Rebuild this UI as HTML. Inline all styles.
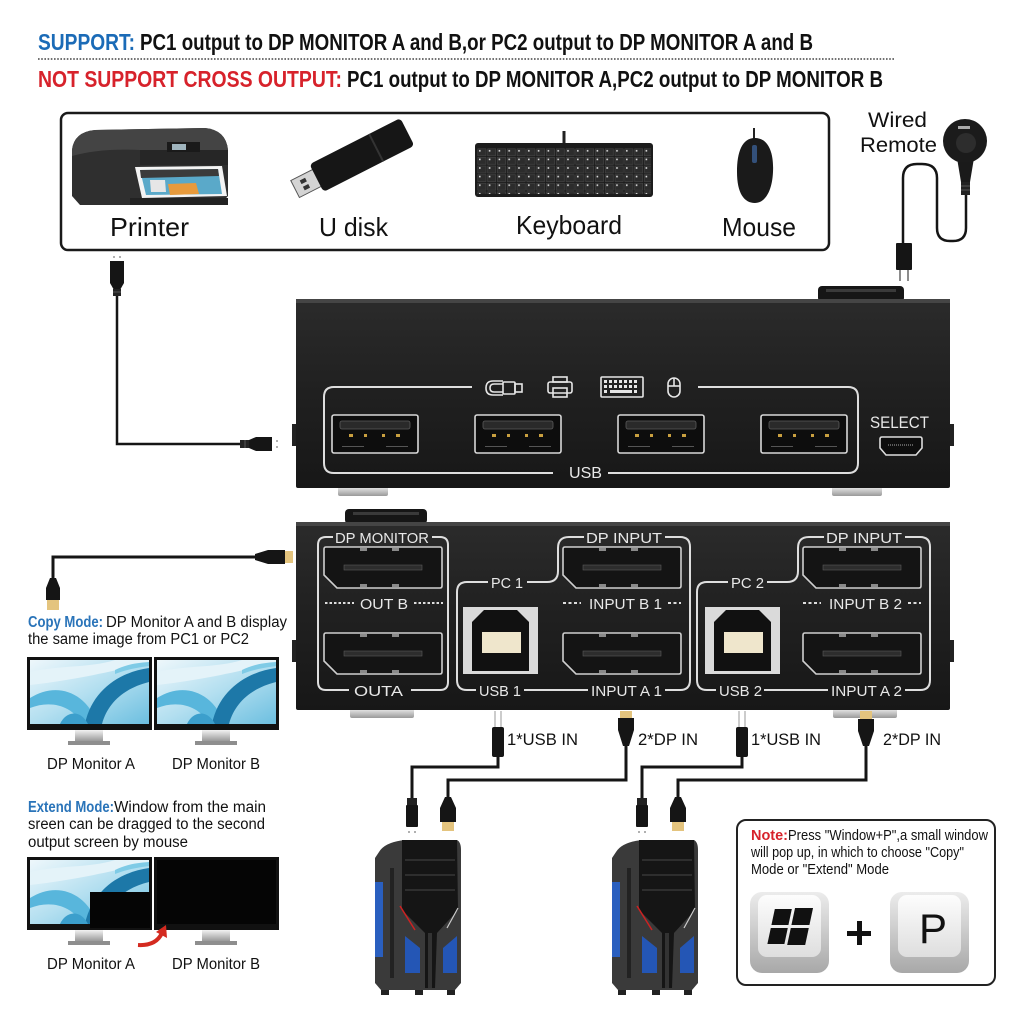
<!DOCTYPE html>
<html><head><meta charset="utf-8"><style>
html,body{margin:0;padding:0;background:#fff;}
svg{display:block;}
text{font-family:"Liberation Sans",Arial,sans-serif;}
</style></head><body>
<svg width="1024" height="1024" viewBox="0 0 1024 1024" xmlns="http://www.w3.org/2000/svg">
<defs>
 <linearGradient id="dev" x1="0" y1="0" x2="0" y2="1"><stop offset="0" stop-color="#2b2b2b"/><stop offset="0.5" stop-color="#202020"/><stop offset="1" stop-color="#171717"/></linearGradient>
 <linearGradient id="silver" x1="0" y1="0" x2="0" y2="1"><stop offset="0" stop-color="#f2f2f2"/><stop offset="1" stop-color="#9a9a9a"/></linearGradient>
 <linearGradient id="scr" x1="0" y1="0" x2="1" y2="1"><stop offset="0" stop-color="#eef7fb"/><stop offset="0.5" stop-color="#b3dff0"/><stop offset="1" stop-color="#6cbfe0"/></linearGradient>
 <linearGradient id="capo" x1="0" y1="0" x2="0" y2="1"><stop offset="0" stop-color="#ececec"/><stop offset="1" stop-color="#a8a8a8"/></linearGradient>
 <linearGradient id="capi" x1="0" y1="0" x2="0" y2="1"><stop offset="0" stop-color="#fdfdfd"/><stop offset="1" stop-color="#dedede"/></linearGradient>
 <pattern id="keys" x="477" y="148" width="9.8" height="8.6" patternUnits="userSpaceOnUse">
  <rect x="0.8" y="0.8" width="8.2" height="7" fill="#2c2c2c" stroke="#4d4d4d" stroke-width="0.5"/>
  <rect x="2" y="2" width="1.6" height="1.6" fill="#ddd"/>
 </pattern>
 <g id="screen">
  <rect width="119" height="64" fill="url(#scr)"/>
  <path d="M0,12 C30,5 60,8 85,0 L119,0 L119,4 C90,8 60,18 0,25Z" fill="#e4f3f9"/>
  <path d="M0,38 C25,22 55,30 68,64 L52,64 C42,45 20,40 0,48Z" fill="#58b6dc"/>
  <path d="M55,64 C62,30 90,12 119,8 L119,22 C95,28 78,42 72,64Z" fill="#1d78a8"/>
  <path d="M30,64 C35,52 50,48 58,64Z" fill="#3c9fcc"/>
  <path d="M85,10 C95,5 105,3 119,2 L119,6 C105,8 95,10 85,14Z" fill="#7fcbe6"/>
 </g>
 <g id="mon">
  <rect x="0" y="0" width="125" height="73" fill="#111"/>
  <rect x="48" y="73" width="28" height="11" fill="url(#silver)"/>
  <rect x="41" y="84" width="42" height="4" fill="#8e8e8e"/>
 </g>
 <g id="usbport">
  <rect x="0" y="0" width="86" height="38" rx="2" fill="#0d0d0d" stroke="#d8d8d8" stroke-width="1.6"/>
  <rect x="8" y="6" width="70" height="8" rx="2" fill="#2a2a2a" stroke="#5a5a5a" stroke-width="0.8"/>
  <rect x="17" y="19" width="4" height="3" fill="#c9a040"/>
  <rect x="32" y="19" width="3" height="3" fill="#c9a040"/>
  <rect x="50" y="19" width="3" height="3" fill="#c9a040"/>
  <rect x="64" y="19" width="4" height="3" fill="#c9a040"/>
  <rect x="10" y="31" width="22" height="1" fill="#555"/>
  <rect x="54" y="31" width="22" height="1" fill="#555"/>
 </g>
 <g id="dpport">
  <path d="M2,0 H116 Q118,0 118,2 V39 Q118,41 116,41 H13 L0,28 V2 Q0,0 2,0 Z" fill="#141414" stroke="#cfcfcf" stroke-width="1.6"/>
  <rect x="20" y="18" width="78" height="5" fill="#2d2d2d" stroke="#5a5a5a" stroke-width="0.6"/>
  <rect x="36" y="1" width="7" height="3" fill="#8a8a8a"/>
  <rect x="68" y="1" width="7" height="3" fill="#8a8a8a"/>
  <rect x="36" y="37" width="7" height="3" fill="#8a8a8a"/>
  <rect x="68" y="37" width="7" height="3" fill="#8a8a8a"/>
 </g>
 <g id="usbb">
  <rect x="0" y="0" width="75" height="67" fill="#dadada"/>
  <polygon points="9,15 21,3 54,3 66,15 66,64 9,64" fill="#111"/>
  <rect x="19" y="25" width="39" height="21" fill="#efe6cc"/>
 </g>
 <g id="pc">
  <path d="M4,14 Q10,4 30,2 L82,2 Q86,4 86,12 L86,145 L80,152 L6,152 L0,145 L0,20 Z" fill="#3a3a3a"/>
  <path d="M27,2 L82,2 L83,72 L62,95 L60,150 L50,150 L50,95 L27,72 Z" fill="#151515"/>
  <line x1="30" y1="22" x2="80" y2="22" stroke="#2e2e2e" stroke-width="2"/>
  <line x1="30" y1="37" x2="80" y2="37" stroke="#2e2e2e" stroke-width="2"/>
  <line x1="30" y1="52" x2="80" y2="52" stroke="#2e2e2e" stroke-width="2"/>
  <rect x="0" y="44" width="8" height="75" fill="#2a5fbf"/>
  <rect x="15" y="30" width="4" height="110" fill="#222"/>
  <polygon points="30,98 45,110 45,135 30,135" fill="#2456b5"/>
  <polygon points="68,110 82,98 82,135 68,135" fill="#2456b5"/>
  <line x1="25" y1="68" x2="40" y2="92" stroke="#c22" stroke-width="1.5"/>
  <line x1="83" y1="70" x2="72" y2="90" stroke="#ccc" stroke-width="1.2"/>
  <rect x="53" y="95" width="4" height="55" fill="#333"/>
  <rect x="6" y="152" width="8" height="5" fill="#222"/>
  <rect x="40" y="152" width="8" height="5" fill="#222"/>
  <rect x="72" y="152" width="8" height="5" fill="#222"/>
 </g>
 <g id="keycap">
  <rect x="0" y="0" width="79" height="81" rx="12" fill="url(#capo)"/>
  <rect x="8" y="3" width="63" height="62" rx="9" fill="url(#capi)"/>
 </g>
</defs>

<rect width="1024" height="1024" fill="#fff"/>

<!-- Header -->
<text x="38" y="50" font-size="23" font-weight="bold" fill="#1b6bb7" textLength="97" lengthAdjust="spacingAndGlyphs">SUPPORT:</text>
<text x="140" y="50" font-size="23" font-weight="bold" fill="#111" textLength="673" lengthAdjust="spacingAndGlyphs">PC1 output to DP MONITOR A and B,or PC2 output to DP MONITOR A and B</text>
<line x1="38" y1="59" x2="895" y2="59" stroke="#444" stroke-width="1.6" stroke-dasharray="1.6 1.6"/>
<text x="38" y="87" font-size="23" font-weight="bold" fill="#d7222b" textLength="304" lengthAdjust="spacingAndGlyphs">NOT SUPPORT CROSS OUTPUT:</text>
<text x="347" y="87" font-size="23" font-weight="bold" fill="#111" textLength="536" lengthAdjust="spacingAndGlyphs">PC1 output to DP MONITOR A,PC2 output to DP MONITOR B</text>

<!-- Peripherals box -->
<rect x="61" y="113" width="768" height="137" rx="7" fill="#fff" stroke="#1a1a1a" stroke-width="2.5"/>
<!-- printer -->
<path d="M72,150 Q74,132 95,130 L205,128 Q226,130 228,150 L228,196 L220,205 L80,205 L72,196 Z" fill="#2f2f2f"/>
<path d="M72,150 Q74,132 95,130 L205,128 Q226,130 228,150 L140,150 Q100,148 72,156 Z" fill="#444"/>
<path d="M140,150 L228,150 L228,165 L140,165 Z" fill="#262626"/>
<rect x="167" y="142" width="33" height="10" fill="#1a1a1a"/>
<rect x="172" y="144" width="14" height="6" fill="#9fb4bd"/>
<path d="M135,167 L222,166 L227,196 L142,198 Z" fill="#f4f4f4"/>
<path d="M140,170 L218,169 L222,194 L146,195 Z" fill="#5aa9c9"/>
<path d="M140,170 L218,169 L219,176 L141,178 Z" fill="#3b3b3b"/>
<path d="M168,184 L196,183 L199,194 L170,195 Z" fill="#e79a3c"/>
<path d="M150,180 L165,180 L166,192 L151,192 Z" fill="#e6e6e6"/>
<rect x="130" y="198" width="98" height="7" fill="#222"/>
<!-- U disk -->
<g transform="rotate(-27 351 160)">
 <rect x="288" y="151" width="26" height="19" fill="#d4d4d4" stroke="#555" stroke-width="1"/>
 <rect x="296" y="155" width="6" height="4" fill="#333"/>
 <rect x="296" y="162" width="6" height="4" fill="#333"/>
 <rect x="312" y="145" width="102" height="31" rx="4" fill="#161616"/>
 <rect x="378" y="145" width="2" height="31" fill="#333"/>
</g>
<!-- keyboard -->
<line x1="564" y1="131" x2="564" y2="144" stroke="#222" stroke-width="3"/>
<rect x="475" y="143" width="178" height="54" rx="3" fill="#1c1c1c"/>
<rect x="477" y="148" width="174" height="46" fill="url(#keys)"/>
<!-- mouse -->
<line x1="754" y1="128" x2="754" y2="142" stroke="#222" stroke-width="2"/>
<path d="M755,138 C768,138 774,152 773,172 C772,193 764,203 755,203 C744,203 737,193 737,172 C737,152 742,138 755,138 Z" fill="#1a1a1a"/>
<rect x="752" y="145" width="5" height="18" rx="2" fill="#33507a"/>
<text x="110" y="236" font-size="26" fill="#111" textLength="79" lengthAdjust="spacingAndGlyphs">Printer</text>
<text x="319" y="236" font-size="26" fill="#111" textLength="69" lengthAdjust="spacingAndGlyphs">U disk</text>
<text x="516" y="234" font-size="26" fill="#111" textLength="106" lengthAdjust="spacingAndGlyphs">Keyboard</text>
<text x="722" y="236" font-size="26" fill="#111" textLength="74" lengthAdjust="spacingAndGlyphs">Mouse</text>

<!-- Wired remote -->
<text x="868" y="127" font-size="21" fill="#111" textLength="59" lengthAdjust="spacingAndGlyphs">Wired</text>
<text x="860" y="152" font-size="21" fill="#111" textLength="77" lengthAdjust="spacingAndGlyphs">Remote</text>
<path d="M966,195 V228 Q966,241 953,241 H950 Q937,241 937,228 V178 Q937,164 922,164 H917 Q903,164 903,178 V245" fill="none" stroke="#151515" stroke-width="2.5"/>
<path d="M957,158 L974,158 L970,182 L961,182 Z" fill="#1a1a1a"/>
<rect x="961" y="182" width="9" height="13" fill="#222"/>
<line x1="961" y1="186" x2="970" y2="186" stroke="#555"/>
<line x1="961" y1="190" x2="970" y2="190" stroke="#555"/>
<circle cx="965" cy="141" r="22" fill="#1b1b1b"/>
<circle cx="966" cy="143" r="10" fill="#2d2d2d"/>
<rect x="958" y="126" width="12" height="3" fill="#aaa"/>
<rect x="896" y="243" width="16" height="27" rx="1" fill="#151515"/>
<line x1="900" y1="270" x2="900" y2="281" stroke="#666" stroke-width="1.5"/>
<line x1="908" y1="270" x2="908" y2="281" stroke="#666" stroke-width="1.5"/>

<!-- Printer cable left -->
<path d="M117,292 V444 H242" fill="none" stroke="#151515" stroke-width="2.5"/>
<circle cx="114" cy="257" r="0.9" fill="#777"/><circle cx="120" cy="257" r="0.9" fill="#777"/>
<path d="M110,261 H124 V283 L120,290 H114 L110,283 Z" fill="#151515"/>
<rect x="113" y="289" width="8" height="7" fill="#222"/>
<line x1="113" y1="292" x2="121" y2="292" stroke="#555"/>
<rect x="240" y="440" width="10" height="8" fill="#222"/>
<line x1="245" y1="440" x2="245" y2="448" stroke="#555"/>
<path d="M249,440 L256,437 H272 V451 H256 L249,448 Z" fill="#151515"/>
<circle cx="277" cy="441" r="0.9" fill="#777"/><circle cx="277" cy="447" r="0.9" fill="#777"/>

<!-- DP cable left -->
<path d="M257,557 H53 V580" fill="none" stroke="#151515" stroke-width="3"/>
<path d="M255,554 L268,550 H285 V564 H268 L255,560 Z" fill="#151515"/>
<rect x="285" y="551" width="8" height="12" fill="#e4c47e"/>
<path d="M50,578 H56 L60,588 V600 H46 V588 Z" fill="#151515"/>
<rect x="47" y="600" width="12" height="10" fill="#e4c47e"/>

<!-- TOP DEVICE -->
<rect x="818" y="286" width="86" height="16" rx="4" fill="#161616"/>
<rect x="826" y="289" width="70" height="3" fill="#3a3a3a"/>
<rect x="338" y="486" width="50" height="10" rx="2" fill="url(#silver)"/>
<rect x="832" y="486" width="50" height="10" rx="2" fill="url(#silver)"/>
<rect x="296" y="299" width="654" height="189" rx="2" fill="url(#dev)"/>
<rect x="296" y="299" width="654" height="4" fill="#454545"/>
<rect x="292" y="424" width="4" height="22" fill="#222"/>
<rect x="950" y="424" width="4" height="22" fill="#222"/>
<path d="M472,387 H334 Q324,387 324,397 V463 Q324,473 334,473 H553 M608,473 H848 Q858,473 858,463 V397 Q858,387 848,387 H698" fill="none" stroke="#dedede" stroke-width="2"/>
<use href="#usbport" x="332" y="415"/>
<use href="#usbport" x="475" y="415"/>
<use href="#usbport" x="618" y="415"/>
<use href="#usbport" x="761" y="415"/>
<text x="569" y="478" font-size="16" fill="#e8e8e8" textLength="33" lengthAdjust="spacingAndGlyphs">USB</text>
<text x="870" y="428" font-size="17" fill="#e8e8e8" textLength="59" lengthAdjust="spacingAndGlyphs">SELECT</text>
<path d="M882,437 H920 Q922,437 922,439 V448 L916,455 H886 L880,448 V439 Q880,437 882,437 Z" fill="#0d0d0d" stroke="#ddd" stroke-width="1.6"/>
<line x1="888" y1="445" x2="914" y2="445" stroke="#777" stroke-width="1.5" stroke-dasharray="1 1"/>
<!-- icons -->
<g fill="none" stroke="#e6e6e6" stroke-width="1.6">
 <path d="M503,381 H493 Q486,381 486,388 Q486,395 493,395 H503"/>
 <path d="M503,384 H494 Q490,384 490,388 Q490,392 494,392 H503"/>
 <rect x="503" y="382" width="12" height="12" rx="1"/>
 <rect x="515" y="384" width="7" height="8"/>
 <rect x="553" y="377" width="14" height="5"/>
 <rect x="548" y="382" width="24" height="11" rx="2"/>
 <rect x="553" y="388" width="14" height="9"/>
 <rect x="601" y="377" width="42" height="20" rx="1"/>
 <rect x="668" y="378" width="12" height="19" rx="6"/>
 <line x1="674" y1="378" x2="674" y2="386"/>
 <line x1="668" y1="386" x2="680" y2="386"/>
</g>
<g fill="#e6e6e6">
 <rect x="604" y="380" width="3" height="3"/><rect x="609" y="380" width="3" height="3"/><rect x="614" y="380" width="3" height="3"/><rect x="619" y="380" width="3" height="3"/><rect x="624" y="380" width="3" height="3"/><rect x="629" y="380" width="3" height="3"/><rect x="634" y="380" width="3" height="3"/>
 <rect x="604" y="385" width="3" height="3"/><rect x="609" y="385" width="3" height="3"/><rect x="614" y="385" width="3" height="3"/><rect x="619" y="385" width="3" height="3"/><rect x="624" y="385" width="3" height="3"/><rect x="629" y="385" width="3" height="3"/><rect x="634" y="385" width="3" height="3"/>
 <rect x="604" y="390" width="3" height="3"/><rect x="610" y="390" width="22" height="3"/><rect x="634" y="390" width="3" height="3"/>
</g>

<!-- BOTTOM DEVICE -->
<rect x="345" y="509" width="82" height="15" rx="4" fill="#161616"/>
<rect x="353" y="512" width="66" height="3" fill="#3a3a3a"/>
<rect x="350" y="708" width="64" height="10" rx="2" fill="url(#silver)"/>
<rect x="833" y="708" width="64" height="10" rx="2" fill="url(#silver)"/>
<rect x="296" y="522" width="654" height="188" rx="2" fill="url(#dev)"/>
<rect x="296" y="522" width="654" height="4" fill="#454545"/>
<rect x="292" y="640" width="4" height="22" fill="#222"/>
<rect x="950" y="640" width="4" height="22" fill="#222"/>

<g fill="none" stroke="#dedede" stroke-width="2">
 <!-- DP monitor bracket -->
 <path d="M333,537 H326 Q318,537 318,545 V682 Q318,690 326,690 H349 M411,690 H440 Q448,690 448,682 V545 Q448,537 440,537 H432"/>
 <line x1="325" y1="603" x2="354" y2="603" stroke-dasharray="2.5 2"/>
 <line x1="414" y1="603" x2="443" y2="603" stroke-dasharray="2.5 2"/>
 <!-- PC1 -->
 <path d="M488,582 H467 Q457,582 457,592 V680 Q457,690 467,690 H476 M524,690 H588 M665,690 H680 Q690,690 690,680 V547 Q690,537 680,537 H665 M584,537 H569 Q558,537 558,548 V571 Q558,582 547,582 H527"/>
 <line x1="563" y1="603" x2="581" y2="603" stroke-dasharray="3 2.5"/>
 <line x1="668" y1="603" x2="681" y2="603" stroke-dasharray="3 2.5"/>
 <!-- PC2 -->
 <path d="M728,582 H707 Q697,582 697,592 V680 Q697,690 707,690 H716 M764,690 H828 M905,690 H920 Q930,690 930,680 V547 Q930,537 920,537 H905 M824,537 H809 Q798,537 798,548 V571 Q798,582 787,582 H767"/>
 <line x1="803" y1="603" x2="821" y2="603" stroke-dasharray="3 2.5"/>
 <line x1="908" y1="603" x2="921" y2="603" stroke-dasharray="3 2.5"/>
</g>
<use href="#dpport" x="324" y="547"/>
<use href="#dpport" x="324" y="633"/>
<use href="#dpport" x="563" y="547"/>
<use href="#dpport" x="563" y="633"/>
<use href="#dpport" x="803" y="547"/>
<use href="#dpport" x="803" y="633"/>
<use href="#usbb" x="463" y="607"/>
<use href="#usbb" x="705" y="607"/>
<g fill="#e8e8e8" font-size="15">
 <text x="335" y="543" textLength="94" lengthAdjust="spacingAndGlyphs">DP MONITOR</text>
 <text x="360" y="609" textLength="48" lengthAdjust="spacingAndGlyphs">OUT B</text>
 <text x="354" y="696" textLength="49" lengthAdjust="spacingAndGlyphs">OUTA</text>
 <text x="491" y="588" textLength="32" lengthAdjust="spacingAndGlyphs">PC 1</text>
 <text x="586" y="543" textLength="76" lengthAdjust="spacingAndGlyphs">DP INPUT</text>
 <text x="589" y="609" textLength="73" lengthAdjust="spacingAndGlyphs">INPUT B 1</text>
 <text x="479" y="696" textLength="42" lengthAdjust="spacingAndGlyphs">USB 1</text>
 <text x="591" y="696" textLength="71" lengthAdjust="spacingAndGlyphs">INPUT A 1</text>
 <text x="731" y="588" textLength="33" lengthAdjust="spacingAndGlyphs">PC 2</text>
 <text x="826" y="543" textLength="76" lengthAdjust="spacingAndGlyphs">DP INPUT</text>
 <text x="829" y="609" textLength="73" lengthAdjust="spacingAndGlyphs">INPUT B 2</text>
 <text x="719" y="696" textLength="43" lengthAdjust="spacingAndGlyphs">USB 2</text>
 <text x="831" y="696" textLength="71" lengthAdjust="spacingAndGlyphs">INPUT A 2</text>
</g>

<!-- Cables to PCs -->
<g fill="none" stroke="#151515" stroke-width="3">
 <path d="M498,755 V767 H412 V802"/>
 <path d="M626,745 V780 H448 V798"/>
 <path d="M742,755 V767 H642 V802"/>
 <path d="M866,745 V780 H678 V798"/>
</g>
<!-- upper plugs -->
<g>
 <line x1="495" y1="711" x2="495" y2="727" stroke="#aaa" stroke-width="1.2"/>
 <line x1="501" y1="711" x2="501" y2="727" stroke="#aaa" stroke-width="1.2"/>
 <rect x="492" y="727" width="12" height="30" rx="2" fill="#151515"/>
 <rect x="620" y="711" width="12" height="7" fill="#e4c47e"/>
 <path d="M618,718 H634 V730 L629,746 H623 L618,730 Z" fill="#151515"/>
 <line x1="739" y1="711" x2="739" y2="727" stroke="#aaa" stroke-width="1.2"/>
 <line x1="745" y1="711" x2="745" y2="727" stroke="#aaa" stroke-width="1.2"/>
 <rect x="736" y="727" width="12" height="30" rx="2" fill="#151515"/>
 <rect x="860" y="711" width="12" height="8" fill="#e4c47e"/>
 <path d="M858,719 H874 V731 L869,746 H863 L858,731 Z" fill="#151515"/>
</g>
<!-- lower plugs -->
<g>
 <rect x="407" y="798" width="10" height="8" fill="#222"/>
 <rect x="406" y="805" width="12" height="22" rx="1" fill="#151515"/>
 <circle cx="409" cy="832" r="0.9" fill="#777"/><circle cx="415" cy="832" r="0.9" fill="#777"/>
 <path d="M445,797 H451 L456,808 V822 H440 V808 Z" fill="#151515"/>
 <rect x="442" y="822" width="12" height="9" fill="#e4c47e"/>
 <rect x="637" y="798" width="10" height="8" fill="#222"/>
 <rect x="636" y="805" width="12" height="22" rx="1" fill="#151515"/>
 <circle cx="639" cy="832" r="0.9" fill="#777"/><circle cx="645" cy="832" r="0.9" fill="#777"/>
 <path d="M675,797 H681 L686,808 V822 H670 V808 Z" fill="#151515"/>
 <rect x="672" y="822" width="12" height="9" fill="#e4c47e"/>
</g>
<g font-size="17" fill="#111">
 <text x="507" y="745" textLength="71" lengthAdjust="spacingAndGlyphs">1*USB  IN</text>
 <text x="638" y="745" textLength="60" lengthAdjust="spacingAndGlyphs">2*DP IN</text>
 <text x="751" y="745" textLength="70" lengthAdjust="spacingAndGlyphs">1*USB  IN</text>
 <text x="883" y="745" textLength="58" lengthAdjust="spacingAndGlyphs">2*DP IN</text>
</g>

<!-- PCs -->
<use href="#pc" x="375" y="838"/>
<use href="#pc" x="612" y="838"/>

<!-- Note box -->
<rect x="737" y="820" width="258" height="165" rx="9" fill="#fff" stroke="#222" stroke-width="2"/>
<text x="751" y="840" font-size="14.5" font-weight="bold" fill="#d7222b" textLength="37" lengthAdjust="spacingAndGlyphs">Note:</text>
<text x="788" y="840" font-size="14.5" fill="#111" textLength="200" lengthAdjust="spacingAndGlyphs">Press "Window+P",a small window</text>
<text x="751" y="857" font-size="14.5" fill="#111" textLength="213" lengthAdjust="spacingAndGlyphs">will pop up, in which to choose "Copy"</text>
<text x="751" y="874" font-size="14.5" fill="#111" textLength="138" lengthAdjust="spacingAndGlyphs">Mode or "Extend" Mode</text>
<use href="#keycap" x="750" y="892"/>
<use href="#keycap" x="890" y="892"/>
<g transform="translate(790,927) skewX(-12)" fill="#111">
 <rect x="-19" y="-18" width="17" height="16"/>
 <rect x="1" y="-19" width="18" height="17"/>
 <rect x="-19" y="1" width="17" height="16"/>
 <rect x="1" y="1" width="18" height="17"/>
</g>
<rect x="847" y="931" width="24" height="5" fill="#111"/>
<rect x="857" y="921" width="5" height="24" fill="#111"/>
<text x="933" y="943" font-size="42" fill="#111" text-anchor="middle">P</text>

<!-- Copy mode -->
<text x="28" y="627" font-size="15.5" fill="#2a74b9" font-weight="bold" textLength="75" lengthAdjust="spacingAndGlyphs">Copy Mode:</text>
<text x="106" y="627" font-size="15.5" fill="#111" textLength="181" lengthAdjust="spacingAndGlyphs">DP Monitor A and B display</text>
<text x="28" y="644" font-size="15.5" fill="#111" textLength="221" lengthAdjust="spacingAndGlyphs">the same image from PC1 or PC2</text>
<use href="#mon" x="27" y="657"/>
<use href="#screen" x="30" y="660"/>
<use href="#mon" x="154" y="657"/>
<use href="#screen" x="157" y="660"/>
<text x="47" y="769" font-size="15.5" fill="#111" textLength="88" lengthAdjust="spacingAndGlyphs">DP Monitor A</text>
<text x="172" y="769" font-size="15.5" fill="#111" textLength="88" lengthAdjust="spacingAndGlyphs">DP Monitor B</text>

<!-- Extend mode -->
<text x="28" y="812" font-size="15.5" fill="#2a74b9" font-weight="bold" textLength="86" lengthAdjust="spacingAndGlyphs">Extend Mode:</text>
<text x="114" y="812" font-size="15.5" fill="#111" textLength="152" lengthAdjust="spacingAndGlyphs">Window from the main</text>
<text x="28" y="829" font-size="15.5" fill="#111" textLength="237" lengthAdjust="spacingAndGlyphs">sreen can be dragged to the second</text>
<text x="28" y="847" font-size="15.5" fill="#111" textLength="160" lengthAdjust="spacingAndGlyphs">output screen by mouse</text>
<use href="#mon" x="27" y="857"/>
<use href="#screen" x="30" y="860"/>
<rect x="90" y="892" width="60" height="36" fill="#050505"/>
<use href="#mon" x="154" y="857"/>
<rect x="157" y="860" width="119" height="64" fill="#050505"/>
<path d="M138,945 Q156,946 162,933" fill="none" stroke="#d42a20" stroke-width="4"/>
<polygon points="166,925 156,932 167,938" fill="#d42a20"/>
<text x="47" y="969" font-size="15.5" fill="#111" textLength="88" lengthAdjust="spacingAndGlyphs">DP Monitor A</text>
<text x="172" y="969" font-size="15.5" fill="#111" textLength="88" lengthAdjust="spacingAndGlyphs">DP Monitor B</text>
</svg>
</body></html>
